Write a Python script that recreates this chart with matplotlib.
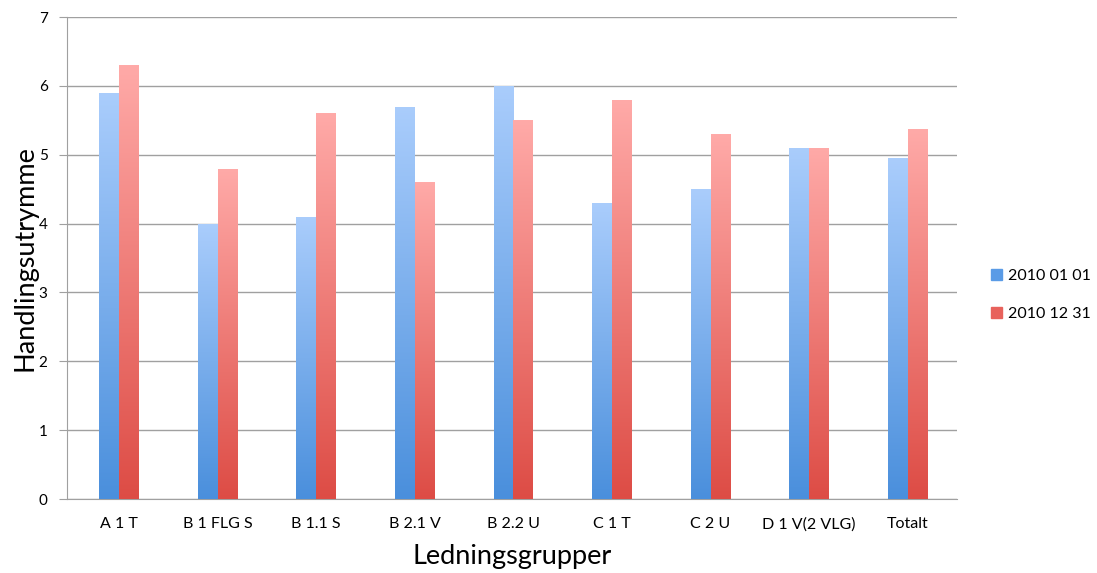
import matplotlib
matplotlib.use('Agg')
import matplotlib.pyplot as plt
import numpy as np
from matplotlib.colors import LinearSegmentedColormap
from matplotlib.patches import Patch

plt.rcParams['font.family'] = ['Lato', 'DejaVu Sans']

groups = ['A 1 T', 'B 1 FLG S', 'B 1.1 S', 'B 2.1 V', 'B 2.2 U', 'C 1 T', 'C 2 U', 'D 1 V(2 VLG)', 'Totalt']
start = [5.9, 4.0, 4.1, 5.7, 6.0, 4.3, 4.5, 5.1, 4.95]
end = [6.3, 4.8, 5.6, 4.6, 5.5, 5.8, 5.3, 5.1, 5.37]
series = ['2010 01 01', '2010 12 31']

blue_map = LinearSegmentedColormap.from_list('b', ['#4a8fdc', '#aacdfc'])
red_map = LinearSegmentedColormap.from_list('r', ['#dd4c45', '#ffaaa8'])

fig = plt.figure(figsize=(10.97, 5.73), dpi=100)
ax = fig.add_axes([0.0611, 0.1291, 0.8113, 0.8412])

x = np.arange(len(groups))
w = 0.2
grad = np.linspace(0, 1, 256).reshape(-1, 1)

def gradient_bars(xpos, vals, cmap):
    bars = ax.bar(xpos, vals, w, color='none', edgecolor='none', zorder=3)
    for b in bars:
        x0, y0 = b.get_x(), b.get_y()
        im = ax.imshow(grad, cmap=cmap, origin='lower', aspect='auto',
                       extent=[x0, x0 + b.get_width(), y0, y0 + b.get_height()], zorder=3)
        im.set_clip_path(b)

gradient_bars(x - w / 2, start, blue_map)
gradient_bars(x + w / 2, end, red_map)

ax.set_xlim(-0.527, 8.5)
ax.set_ylim(0, 7)
ax.set_yticks(range(8))
ax.set_xticks(x)
ax.set_xticklabels(groups)
ax.yaxis.grid(True, color='#a0a0a0', linewidth=1)
ax.set_axisbelow(True)
for s in ['top', 'right']:
    ax.spines[s].set_visible(False)
for s in ['left', 'bottom']:
    ax.spines[s].set_color('#a0a0a0')
ax.tick_params(axis='y', length=6, color='#a0a0a0', labelsize=11, pad=8)
ax.tick_params(axis='x', length=0, labelsize=11.5, pad=13)
ax.set_ylabel('Handlingsutrymme', fontsize=19.5, labelpad=1)
ax.set_xlabel('Ledningsgrupper', fontsize=19.5, labelpad=9)

handles = [Patch(color='#5a9be6'), Patch(color='#e8625c')]
fig.legend(handles, series, loc='center left', bbox_to_anchor=(0.89, 0.485),
           frameon=False, fontsize=11.5, handlelength=0.7, handleheight=0.7,
           handletextpad=0.4, labelspacing=1.5)

fig.savefig('out.png', dpi=100)
